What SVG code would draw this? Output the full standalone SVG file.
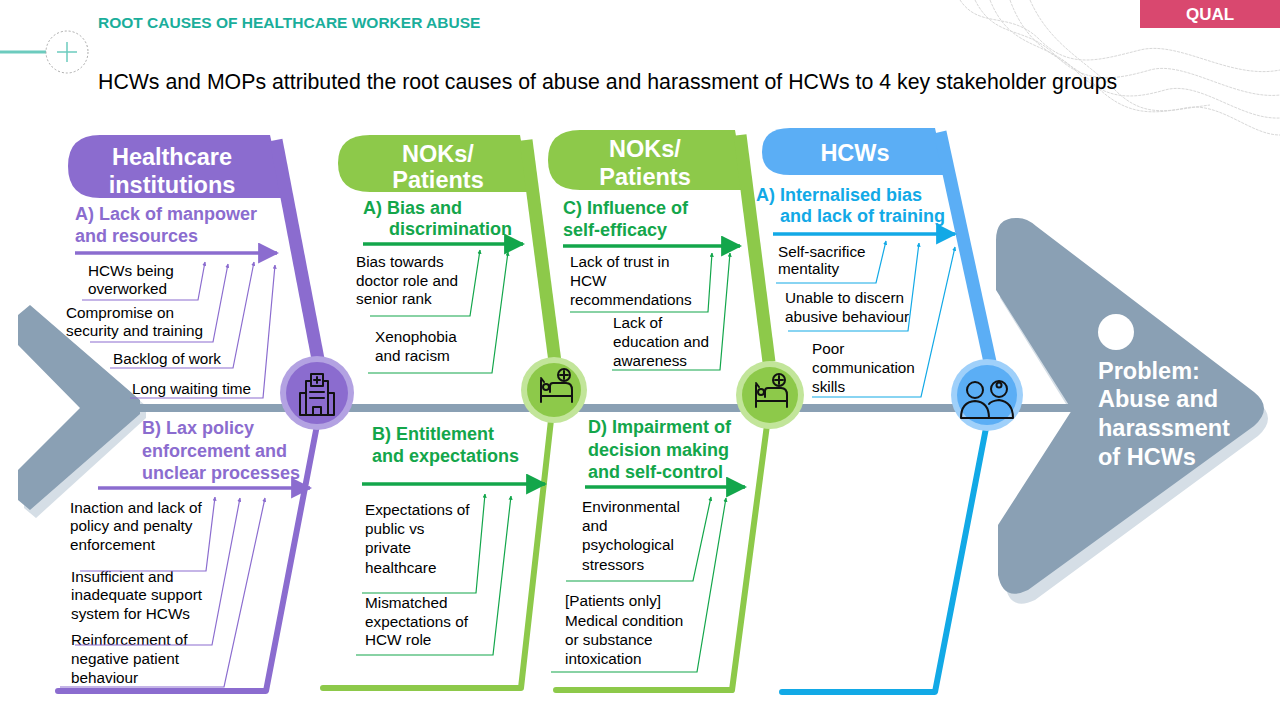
<svg xmlns="http://www.w3.org/2000/svg" width="1280" height="720" viewBox="0 0 1280 720">
<style>
text{font-family:"Liberation Sans",Arial,sans-serif}
.hd{font-size:23.5px;font-weight:bold;fill:#fff;text-anchor:middle}
.sp{font-size:18px;font-weight:bold}
.it{font-size:15.3px;fill:#000}
.pu{fill:#8B6CCF}.gr{fill:#13A64B}.bl{fill:#12A9E6}
.lp{stroke:#8B6CCF;fill:none;stroke-width:1.2}
.lg{stroke:#13A64B;fill:none;stroke-width:1.2}
.lb{stroke:#12A9E6;fill:none;stroke-width:1.2}
.ic{fill:none;stroke:#111;stroke-width:2;stroke-linejoin:round;stroke-linecap:round}
.pr{font-size:23.5px;font-weight:bold;fill:#fff}
</style>
<defs>
<marker id="ap" viewBox="0 0 10 10" refX="9" refY="5" markerWidth="6" markerHeight="6" orient="auto"><path d="M0,0L10,5L0,10z" fill="#8B6CCF"/></marker>
<marker id="ag" viewBox="0 0 10 10" refX="9" refY="5" markerWidth="6" markerHeight="6" orient="auto"><path d="M0,0L10,5L0,10z" fill="#13A64B"/></marker>
<marker id="ab" viewBox="0 0 10 10" refX="9" refY="5" markerWidth="6" markerHeight="6" orient="auto"><path d="M0,0L10,5L0,10z" fill="#12A9E6"/></marker>
<marker id="bp" viewBox="0 0 10 10" refX="9" refY="5" markerWidth="3.5" markerHeight="3.5" orient="auto"><path d="M0,0L10,5L0,10z" fill="#8B6CCF"/></marker>
<marker id="bg" viewBox="0 0 10 10" refX="9" refY="5" markerWidth="3.5" markerHeight="3.5" orient="auto"><path d="M0,0L10,5L0,10z" fill="#13A64B"/></marker>
<marker id="bb" viewBox="0 0 10 10" refX="9" refY="5" markerWidth="3.5" markerHeight="3.5" orient="auto"><path d="M0,0L10,5L0,10z" fill="#12A9E6"/></marker>
</defs>
<rect width="1280" height="720" fill="#fff"/>
<g fill="none" stroke="#d8d8d8" stroke-width="1" stroke-dasharray="3 1">
<path d="M960,0 C980,30 1010,10 1040,40 S1100,60 1140,50 S1230,80 1280,70"/>
<path d="M975,0 C995,40 1025,25 1055,55 S1115,80 1150,70 S1235,100 1280,95"/>
<path d="M990,0 C1010,50 1045,40 1075,70 S1130,100 1165,90 S1240,120 1280,118"/>
<path d="M1010,0 C1030,55 1065,55 1095,85 S1150,115 1185,108 S1250,135 1280,135"/>
<path d="M1030,0 C1050,45 1085,60 1115,90 S1170,110 1210,105"/>
</g>
<text x="98" y="28" font-family="Liberation Sans Narrow,Liberation Sans,sans-serif" font-size="15.5" font-weight="bold" fill="#1AAE9B">ROOT CAUSES OF HEALTHCARE WORKER ABUSE</text>
<line x1="0" y1="52" x2="46" y2="52" stroke="#6CCBBE" stroke-width="3"/>
<circle cx="67" cy="52" r="21" fill="none" stroke="#aaa" stroke-dasharray="2 2"/>
<path d="M67,42V62M57,52H77" stroke="#6CCBBE" stroke-width="1.5"/>
<rect x="1140" y="0" width="140" height="28" fill="#D9486F"/>
<text x="1210" y="20" font-size="17" font-weight="bold" fill="#fff" text-anchor="middle">QUAL</text>
<text x="98" y="89" font-size="21.3" fill="#000">HCWs and MOPs attributed the root causes of abuse and harassment of HCWs to 4 key stakeholder groups</text>

<g id="tail">
<polygon points="36,311 146,406 146,418 36,518 24,508 24,475 86,412 24,349 24,318" fill="#D5DEE6"/>
<polygon points="30,305 140,400 140,414 30,510 18,500 18,470 80,408 18,345 18,315" fill="#8AA0B4"/>
</g>
<g id="head">
<path d="M1018,228 Q1000,228 1000,250 L1000,298 L1076,420 L1005,535 L1005,585 Q1010,612 1035,600 L1258,436 Q1278,418 1258,402 L1040,236 Q1030,227 1018,228Z" fill="#D5DEE6"/>
<path d="M1016,218 Q996,218 996,240 L996,290 L1072,410 L998,525 L998,575 Q1003,602 1028,590 L1254,426 Q1274,408 1254,392 L1036,226 Q1026,217 1016,218Z" fill="#8AA0B4"/>
<circle cx="1116" cy="332" r="18" fill="#fff"/>
<text class="pr" x="1098" y="379">Problem:</text>
<text class="pr" x="1098" y="407">Abuse and</text>
<text class="pr" x="1098" y="436">harassment</text>
<text class="pr" x="1098" y="465">of HCWs</text>
</g>
<g id="spine"><line x1="135" y1="408" x2="1085" y2="408" stroke="#8AA0B4" stroke-width="8"/></g>

<g id="healthcare">
<path d="M100,135 L270,135 L284,198 L100,198 Q68,198 68,166 Q68,135 100,135Z" fill="#8B6CCF"/>
<line x1="276" y1="140" x2="322" y2="380" stroke="#8B6CCF" stroke-width="13"/>
<path d="M318,420 L266,691 L58,691" fill="none" stroke="#8B6CCF" stroke-width="6" stroke-linecap="round" stroke-linejoin="round"/>
<text class="hd" x="172" y="165">Healthcare</text>
<text class="hd" x="172" y="193">institutions</text>
<circle cx="317" cy="393" r="37" fill="#B3A2E2"/>
<circle cx="317" cy="393" r="31" fill="#8B6CCF"/>
<g class="ic"><rect x="306" y="381" width="22" height="34"/><rect x="311" y="374" width="12" height="12" fill="#8B6CCF"/><path d="M317,377V383M314,380H320"/><rect x="300" y="393" width="6" height="22"/><rect x="328" y="393" width="6" height="22"/><path d="M310,392H324M310,398H324M313,415V407H321V415"/></g>
<text class="sp pu" x="75" y="220">A) Lack of manpower</text>
<text class="sp pu" x="75" y="242">and resources</text>
<line x1="75" y1="253" x2="277" y2="253" stroke="#8B6CCF" stroke-width="3.5" marker-end="url(#ap)"/>
<text class="it" x="88" y="276">HCWs being</text><text class="it" x="88" y="294">overworked</text>
<text class="it" x="66" y="318">Compromise on</text><text class="it" x="66" y="336">security and training</text>
<text class="it" x="113" y="364">Backlog of work</text>
<text class="it" x="132" y="394">Long waiting time</text>
<text class="sp pu" x="142" y="434">B) Lax policy</text>
<text class="sp pu" x="142" y="457">enforcement and</text>
<text class="sp pu" x="142" y="479">unclear processes</text>
<line x1="98" y1="488" x2="310" y2="488" stroke="#8B6CCF" stroke-width="3.5" marker-end="url(#ap)"/>
<text class="it" x="70" y="513">Inaction and lack of</text><text class="it" x="70" y="531">policy and penalty</text><text class="it" x="70" y="550">enforcement</text>
<text class="it" x="71" y="582">Insufficient and</text><text class="it" x="71" y="600">inadequate support</text><text class="it" x="71" y="619">system for HCWs</text>
<text class="it" x="71" y="645">Reinforcement of</text><text class="it" x="71" y="664">negative patient</text><text class="it" x="71" y="683">behaviour</text>
</g>

<g id="nok1">
<path d="M370,135 L520,135 L530,192 L370,192 Q338,192 338,163 Q338,135 370,135Z" fill="#8DC94A"/>
<line x1="526" y1="140" x2="555" y2="362" stroke="#8DC94A" stroke-width="13"/>
<path d="M551,420 L521,688 L323,688" fill="none" stroke="#8DC94A" stroke-width="6" stroke-linecap="round" stroke-linejoin="round"/>
<text class="hd" x="438" y="162">NOKs/</text><text class="hd" x="438" y="188">Patients</text>
<circle cx="554" cy="390" r="33" fill="#C2E59A"/>
<circle cx="554" cy="390" r="27" fill="#8DC94A"/>
<g class="ic"><path d="M541,380V402M541,396H572V402M550,392V386Q550,383 553,383H566Q572,383 572,390V396"/><circle cx="546" cy="387" r="3"/><path d="M544,382L541,378"/><circle cx="564" cy="375" r="6"/><path d="M564,371V379M560,375H568"/></g>
<text class="sp gr" x="363" y="214">A) Bias and</text>
<text class="sp gr" x="389" y="235">discrimination</text>
<line x1="363" y1="244" x2="523" y2="244" stroke="#13A64B" stroke-width="3.5" marker-end="url(#ag)"/>
<text class="it" x="356" y="267">Bias towards</text><text class="it" x="356" y="286">doctor role and</text><text class="it" x="356" y="304">senior rank</text>
<text class="it" x="375" y="342">Xenophobia</text><text class="it" x="375" y="361">and racism</text>
<text class="sp gr" x="372" y="440">B) Entitlement</text>
<text class="sp gr" x="372" y="462">and expectations</text>
<line x1="362" y1="484" x2="545" y2="484" stroke="#13A64B" stroke-width="3.5" marker-end="url(#ag)"/>
<text class="it" x="365" y="515">Expectations of</text><text class="it" x="365" y="534">public vs</text><text class="it" x="365" y="553">private</text><text class="it" x="365" y="573">healthcare</text>
<text class="it" x="365" y="608">Mismatched</text><text class="it" x="365" y="627">expectations of</text><text class="it" x="365" y="645">HCW role</text>
</g>

<g id="nok2">
<path d="M580,130 L735,130 L745,190 L580,190 Q548,190 548,160 Q548,130 580,130Z" fill="#8DC94A"/>
<line x1="740" y1="135" x2="769" y2="362" stroke="#8DC94A" stroke-width="13"/>
<path d="M767,425 L732,690 L556,690" fill="none" stroke="#8DC94A" stroke-width="6" stroke-linecap="round" stroke-linejoin="round"/>
<text class="hd" x="645" y="157">NOKs/</text><text class="hd" x="645" y="185">Patients</text>
<circle cx="770" cy="395" r="34" fill="#C2E59A"/>
<circle cx="770" cy="395" r="28" fill="#8DC94A"/>
<g class="ic"><path d="M756,385V407M756,401H787V407M765,397V391Q765,388 768,388H781Q787,388 787,395V401"/><circle cx="761" cy="392" r="3"/><path d="M759,387L756,383"/><circle cx="779" cy="380" r="6"/><path d="M779,376V384M775,380H783"/></g>
<text class="sp gr" x="563" y="214">C) Influence of</text>
<text class="sp gr" x="563" y="236">self-efficacy</text>
<line x1="563" y1="246" x2="740" y2="246" stroke="#13A64B" stroke-width="3.5" marker-end="url(#ag)"/>
<text class="it" x="570" y="267">Lack of trust in</text><text class="it" x="570" y="286">HCW</text><text class="it" x="570" y="305">recommendations</text>
<text class="it" x="613" y="328">Lack of</text><text class="it" x="613" y="347">education and</text><text class="it" x="613" y="366">awareness</text>
<text class="sp gr" x="588" y="433">D) Impairment of</text>
<text class="sp gr" x="588" y="456">decision making</text>
<text class="sp gr" x="588" y="478">and self-control</text>
<line x1="585" y1="487" x2="745" y2="487" stroke="#13A64B" stroke-width="3.5" marker-end="url(#ag)"/>
<text class="it" x="582" y="512">Environmental</text><text class="it" x="582" y="531">and</text><text class="it" x="582" y="550">psychological</text><text class="it" x="582" y="570">stressors</text>
<text class="it" x="565" y="606">[Patients only]</text><text class="it" x="565" y="626">Medical condition</text><text class="it" x="565" y="645">or substance</text><text class="it" x="565" y="664">intoxication</text>
</g>

<g id="hcws">
<path d="M790,128 L935,128 L945,175 L790,175 Q762,175 762,152 Q762,128 790,128Z" fill="#5BAEF5"/>
<line x1="940" y1="132" x2="990" y2="362" stroke="#5BAEF5" stroke-width="13"/>
<path d="M986,428 L935,692 L782,692" fill="none" stroke="#12A9E6" stroke-width="6" stroke-linecap="round" stroke-linejoin="round"/>
<text class="hd" x="855" y="161">HCWs</text>
<circle cx="987" cy="395" r="36" fill="#9FD0FA"/>
<circle cx="987" cy="395" r="30" fill="#5BAEF5"/>
<g class="ic"><circle cx="975" cy="390" r="8"/><path d="M961,418Q961,402 975,401Q989,402 989,418Z"/><circle cx="999" cy="389" r="8"/><path d="M989,404Q991,401 999,400Q1013,402 1013,418H989"/><circle cx="999" cy="385" r="2.5"/></g>
<text class="sp bl" x="756" y="201">A) Internalised bias</text>
<text class="sp bl" x="780" y="222">and lack of training</text>
<line x1="773" y1="234" x2="955" y2="234" stroke="#12A9E6" stroke-width="3.5" marker-end="url(#ab)"/>
<text class="it" x="778" y="257">Self-sacrifice</text><text class="it" x="778" y="274">mentality</text>
<text class="it" x="785" y="303">Unable to discern</text><text class="it" x="785" y="322">abusive behaviour</text>
<text class="it" x="812" y="354">Poor</text><text class="it" x="812" y="373">communication</text><text class="it" x="812" y="392">skills</text>
</g>

<g id="connectors">
<polyline class="lp" points="82,300 198,300 205,262" marker-end="url(#bp)"/>
<polyline class="lp" points="90,342 213,342 228,264" marker-end="url(#bp)"/>
<polyline class="lp" points="110,368 233,368 254,262" marker-end="url(#bp)"/>
<polyline class="lp" points="130,398 263,398 275,265" marker-end="url(#bp)"/>
<polyline class="lp" points="80,571 206,571 215,497" marker-end="url(#bp)"/>
<polyline class="lp" points="75,645 212,645 240,498" marker-end="url(#bp)"/>
<polyline class="lp" points="60,687 224,687 265,498" marker-end="url(#bp)"/>
<polyline class="lg" points="370,316 470,316 480,250" marker-end="url(#bg)"/>
<polyline class="lg" points="368,373 492,373 508,252" marker-end="url(#bg)"/>
<polyline class="lg" points="362,593 476,593 485,494" marker-end="url(#bg)"/>
<polyline class="lg" points="356,655 493,655 511,496" marker-end="url(#bg)"/>
<polyline class="lg" points="570,312 708,312 712,253" marker-end="url(#bg)"/>
<polyline class="lg" points="612,370 720,370 730,253" marker-end="url(#bg)"/>
<polyline class="lg" points="566,581 693,581 711,497" marker-end="url(#bg)"/>
<polyline class="lg" points="551,672 697,672 726,498" marker-end="url(#bg)"/>
<polyline class="lb" points="776,283 876,283 886,241" marker-end="url(#bb)"/>
<polyline class="lb" points="788,331 908,331 919,243" marker-end="url(#bb)"/>
<polyline class="lb" points="812,397 921,397 955,247" marker-end="url(#bb)"/>
</g>
</svg>
